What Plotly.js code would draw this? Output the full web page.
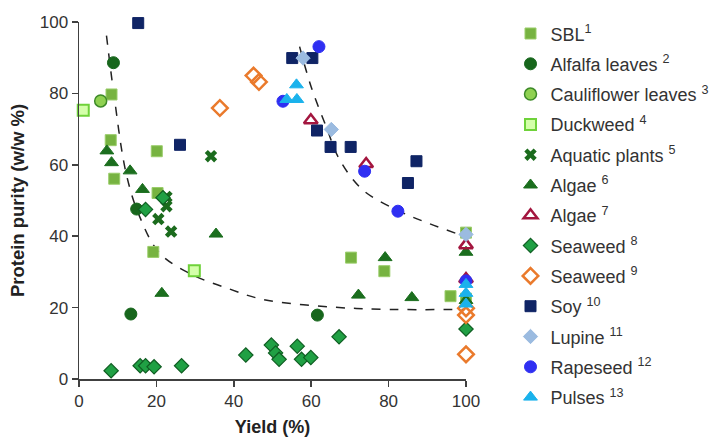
<!DOCTYPE html>
<html>
<head>
<meta charset="utf-8">
<script src="https://cdn.plot.ly/plotly-3.0.1.min.js"></script>
<style>html,body{margin:0;padding:0;background:#fff;}#chart{width:713px;height:437px;}</style>
</head>
<body>
<div id="chart"></div>
<script>
// ---- data ----
const sblX = [8.4, 8.2, 9.1, 20.1, 20.3, 19.2, 70.3, 78.9, 96.0, 100, 100];
const sblY = [79.7, 66.9, 56.1, 63.8, 52.1, 35.6, 34.0, 30.2, 23.2, 41.0, 22.5];
const alfalfaX = [8.9, 14.9, 13.4, 61.6];
const alfalfaY = [88.6, 47.6, 18.2, 17.9];
const caulX = [5.6];
const caulY = [77.9];
const duckX = [1.1, 29.8];
const duckY = [75.3, 30.3];
const aquaX = [34.1, 22.6, 22.6, 20.5, 23.8];
const aquaY = [62.4, 51.0, 48.4, 44.8, 41.3];
const algae6X = [7.2, 8.4, 13.2, 16.4, 35.4, 21.4, 72.2, 79.1, 86.0, 100, 100];
const algae6Y = [63.9, 60.6, 58.3, 53.1, 40.6, 24.0, 23.5, 34.0, 22.8, 35.5, 22.0];
const algae7X = [59.9, 74.2, 100, 100];
const algae7Y = [72.5, 60.2, 37.5, 28.0];
const sea8X = [8.3, 15.8, 17.2, 19.4, 26.5, 43.1, 49.7, 50.8, 51.7, 56.4, 57.5, 59.9, 67.2, 21.7, 17.2, 100];
const sea8Y = [2.3, 3.7, 3.7, 3.4, 3.7, 6.7, 9.5, 7.3, 5.5, 9.2, 5.5, 6.0, 11.8, 50.8, 47.5, 14.0];
const sea9X = [36.4, 45.1, 46.5, 100, 100, 100];
const sea9Y = [75.9, 85.0, 83.2, 19.8, 17.9, 6.9];
const soyX = [15.3, 26.1, 55.1, 60.3, 61.5, 65.0, 70.2, 87.2, 85.0];
const soyY = [99.7, 65.6, 89.9, 89.9, 69.6, 65.0, 65.0, 61.0, 54.9];
const lupineX = [57.9, 65.2, 100];
const lupineY = [89.9, 69.9, 40.5];
const rapeX = [62.0, 52.7, 73.8, 82.4, 100];
const rapeY = [93.1, 77.8, 58.2, 47.0, 27.5];
const pulsesX = [56.2, 53.7, 56.3, 100, 100, 100];
const pulsesY = [82.4, 78.3, 78.3, 26.5, 24.0, 21.0];
// dashed trend curves
const trend1X = [7.1, 9.0, 12.2, 15.7, 20.9, 29.5, 38.9, 47.5, 64.8, 80.3, 99.5];
const trend1Y = [96.2, 79.9, 57.5, 45.4, 35.2, 29.1, 25.2, 22.3, 20.2, 19.5, 19.5];
const trend2X = [57.0, 60.0, 63.9, 67.4, 73.4, 82.4, 90.6, 99.5];
const trend2Y = [93.1, 81.8, 70.6, 61.3, 52.9, 47.2, 43.5, 40.0];
const xTicks = [0, 20, 40, 60, 80, 100];
const yTicks = [0, 20, 40, 60, 80, 100];
const xTitle = 'Yield (%)';
const yTitle = 'Protein purity (w/w %)';

function pts(name, x, y, marker, grp) {
  return {type: 'scatter', mode: 'markers', name: name, x: x, y: y, marker: marker,
          cliponaxis: false, legendgroup: grp, hoverinfo: 'x+y'};
}
const S = ' <sup>';
const traces = [
  {type:'scatter', mode:'lines', x: trend1X, y: trend1Y, showlegend:false, cliponaxis:false,
   line:{color:'#222', width:1.5, dash:'dash', shape:'spline'}},
  {type:'scatter', mode:'lines', x: trend2X, y: trend2Y, showlegend:false, cliponaxis:false,
   line:{color:'#222', width:1.5, dash:'dash', shape:'spline'}},
  pts('SBL<sup>1</sup>', sblX, sblY, {symbol:'square', size:11, color:'#77b341', line:{color:'#9acd6a', width:1}}, 'g1'),
  pts('Alfalfa leaves' + S + '2</sup>', alfalfaX, alfalfaY, {symbol:'circle', size:12, color:'#17661c', line:{color:'#17661c', width:1}}, 'g2'),
  pts('Cauliflower leaves' + S + '3</sup>', caulX, caulY, {symbol:'circle', size:12, color:'#8fd151', line:{color:'#3d8a28', width:1.5}}, 'g3'),
  pts('Duckweed' + S + '4</sup>', duckX, duckY, {symbol:'square', size:11, color:'#d4ffaa', line:{color:'#6fd23a', width:2}}, 'g4'),
  pts('Aquatic plants' + S + '5</sup>', aquaX, aquaY, {symbol:'x', size:11, color:'#1b6b1d', line:{color:'#1b6b1d', width:0}}, 'g5'),
  pts('Algae' + S + '6</sup>', algae6X, algae6Y, {symbol:'triangle-up', size:12, color:'#1b6e1e', line:{color:'#1b6e1e', width:1}}, 'g6'),
  pts('Algae' + S + '7</sup>', algae7X, algae7Y, {symbol:'triangle-up-open', size:12, color:'#a3163f', line:{color:'#a3163f', width:2.5}}, 'g7'),
  pts('Seaweed' + S + '8</sup>', sea8X, sea8Y, {symbol:'diamond', size:11, color:'#20a044', line:{color:'#0f5e22', width:1.2}}, 'g8'),
  pts('Seaweed' + S + '9</sup>', sea9X, sea9Y, {symbol:'diamond-open', size:12, color:'#ea7a2c', line:{color:'#ea7a2c', width:2.5}}, 'g9'),
  pts('Soy' + S + '10</sup>', soyX, soyY, {symbol:'square', size:11, color:'#0f2465', line:{color:'#0f2465', width:1}}, 'g10'),
  pts('Lupine' + S + '11</sup>', lupineX, lupineY, {symbol:'diamond', size:11, color:'#9bbbe0', line:{color:'#9bbbe0', width:1}}, 'g11'),
  pts('Rapeseed' + S + '12</sup>', rapeX, rapeY, {symbol:'circle', size:12, color:'#2f2ff2', line:{color:'#2f2ff2', width:1}}, 'g12'),
  pts('Pulses' + S + '13</sup>', pulsesX, pulsesY, {symbol:'triangle-up', size:12, color:'#1ab2ec', line:{color:'#1ab2ec', width:1}}, 'g13')
];

const layout = {
  width: 713, height: 437,
  margin: {l: 79, r: 247, t: 22, b: 58, autoexpand: false},
  paper_bgcolor: '#fff', plot_bgcolor: '#fff',
  font: {family: 'Liberation Sans, Arial, sans-serif', color: '#333'},
  showlegend: true,
  legend: {xref: 'container', yref: 'container', x: 0.716, xanchor: 'left', y: 0.965, yanchor: 'top',
           tracegroupgap: 3.9, maxheight: 437,
           font: {size: 18, color: '#333'}, bgcolor: 'rgba(0,0,0,0)'},
  xaxis: {range: [0, 100], tickvals: xTicks, ticktext: xTicks.map(String),
          showgrid: false, zeroline: false, showline: true, linecolor: '#404040', linewidth: 1.5,
          ticks: 'outside', ticklen: 6, tickcolor: '#404040', tickwidth: 1.5,
          tickfont: {size: 17, color: '#333'},
          title: {text: '<b>' + xTitle + '</b>', font: {size: 18, color: '#222'}, standoff: 12}},
  yaxis: {range: [0, 100], tickvals: yTicks, ticktext: yTicks.map(String),
          showgrid: false, zeroline: false, showline: true, linecolor: '#404040', linewidth: 1.5,
          ticks: 'outside', ticklen: 6, tickcolor: '#404040', tickwidth: 1.5,
          tickfont: {size: 17, color: '#333'},
          title: {text: '<b>' + yTitle + '</b>', font: {size: 18.5, color: '#222'}, standoff: 10}}
};
Plotly.newPlot('chart', traces, layout, {displayModeBar: false, staticPlot: true});
</script>
</body>
</html>
